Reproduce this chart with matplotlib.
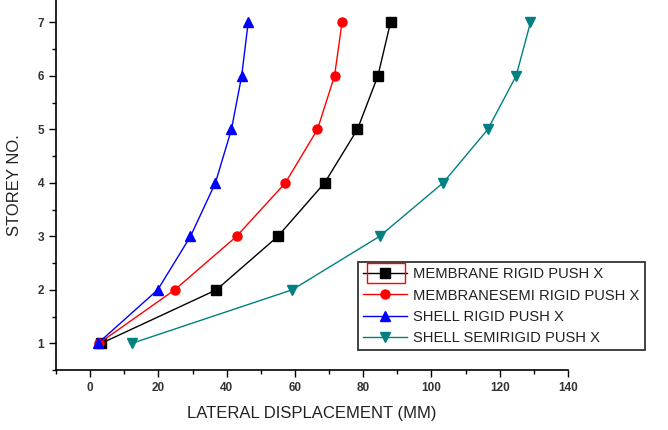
import matplotlib
matplotlib.use("Agg")
import matplotlib.pyplot as plt
from matplotlib.patches import Rectangle
from matplotlib.ticker import MultipleLocator

storey = [1, 2, 3, 4, 5, 6, 7]
membrane_rigid = [3.3, 37.0, 55.0, 68.7, 78.3, 84.3, 88.0]
membrane_semirigid = [2.6, 24.8, 42.9, 57.2, 66.6, 71.6, 73.8]
shell_rigid = [2.3, 19.8, 29.4, 36.7, 41.4, 44.4, 46.3]
shell_semirigid = [12.3, 59.2, 84.8, 103.4, 116.5, 124.8, 129.0]

labels = ["MEMBRANE RIGID PUSH X", "MEMBRANESEMI RIGID PUSH X",
          "SHELL RIGID PUSH X", "SHELL SEMIRIGID PUSH X"]
xticks = [0, 20, 40, 60, 80, 100, 120, 140]
yticks = [1, 2, 3, 4, 5, 6, 7]

plt.rcParams['font.family'] = ['Liberation Sans', 'DejaVu Sans']

fig = plt.figure(figsize=(6.68, 4.30), dpi=100)
ax = fig.add_axes([56/668, 60/430, (568-56)/668, 370/430])

series = [membrane_rigid, membrane_semirigid, shell_rigid, shell_semirigid]
colors = ['black', 'red', 'blue', '#008080']
markers = ['s', 'o', '^', 'v']
for s, c, m, l in zip(series, colors, markers, labels):
    ax.plot(s, storey, color=c, marker=m, markersize=6.5, linewidth=1.0, label=l)

ax.set_xlim(-10, 140)
ax.set_ylim(0.5, 7.42)
ax.set_xticks(xticks)
ax.set_yticks(yticks)
ax.xaxis.set_minor_locator(MultipleLocator(10))
ax.yaxis.set_minor_locator(MultipleLocator(0.5))
ax.spines['top'].set_visible(False)
ax.spines['right'].set_visible(False)
for sp in ['left', 'bottom']:
    ax.spines[sp].set_linewidth(1.2)
ax.tick_params(which='both', direction='out', width=1.0)
ax.tick_params(which='major', length=5, labelsize=8.5, labelcolor='#333333')
ax.tick_params(which='minor', length=3)
for t in ax.get_xticklabels() + ax.get_yticklabels():
    t.set_fontweight('bold')

ax.set_xlabel("LATERAL DISPLACEMENT (MM)", fontsize=12, color='#222222', labelpad=9)
ax.set_ylabel("STOREY NO.", fontsize=12, color='#222222', labelpad=11)

leg = fig.legend(loc='upper left', bbox_to_anchor=(358/668, 1-262/430),
                 frameon=True, fancybox=False, fontsize=10.6, handlelength=3.0,
                 borderpad=0.35, labelspacing=0.5, handletextpad=0.4,
                 borderaxespad=0)
leg.get_frame().set_edgecolor('black')
leg.get_frame().set_linewidth(1.3)
for t in leg.get_texts():
    t.set_color('#222222')

fig.patches.append(Rectangle((367/668, 1-283/430), 38/668, 20/430,
                             transform=fig.transFigure, fill=False,
                             edgecolor='red', linewidth=1.0, zorder=10))

fig.savefig("out.png", dpi=100)
